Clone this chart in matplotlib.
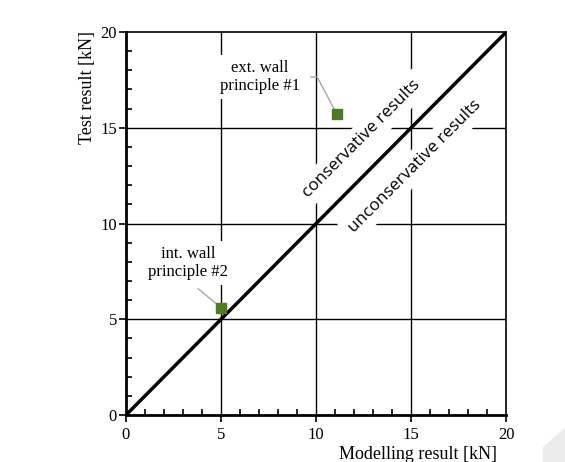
import matplotlib.pyplot as plt
from matplotlib.patches import Polygon

# data
labels = ["ext. wall\nprinciple #1", "int. wall\nprinciple #2"]
model = [11.1, 5.0]
test = [15.7, 5.6]
label_pos = [(7.05, 17.65), (3.25, 7.95)]
ticks = [0, 5, 10, 15, 20]

plt.rcParams["font.family"] = ["Liberation Serif"]
fig = plt.figure(figsize=(5.65, 4.62), dpi=100)
ax = fig.add_axes([0.223, 0.1017, 0.673, 0.829])

# grid + 1:1 line
for v in ticks[1:-1]:
    ax.axvline(v, color="black", lw=1.0, zorder=1)
    ax.axhline(v, color="black", lw=1.0, zorder=1)
ax.plot([0, 20], [0, 20], color="black", lw=2.5, zorder=3)

ax.scatter(model, test, marker="s", s=60, color="#4e7a27", zorder=5)

conn = ["angle,angleA=0,angleB=118,rad=0", "arc3,rad=0"]
rel = [(1.0, 0.5), (0.5, 0.0)]
for lab, (tx, ty), x, y, cs, rp in zip(labels, label_pos, model, test, conn, rel):
    ax.annotate(lab, xy=(x, y), xytext=(tx, ty), ha="center", va="center",
                fontsize=12, zorder=4,
                bbox=dict(boxstyle="square,pad=0.3", fc="white", ec="none"),
                arrowprops=dict(arrowstyle="-", color="#a6a6a6", lw=1.0,
                                shrinkA=4, shrinkB=2, connectionstyle=cs, relpos=rp))

ax.text(12.37, 14.41, "conservative results", rotation=45, ha="center", va="center",
        fontsize=12.3, family="Open Sans", zorder=4,
        bbox=dict(boxstyle="square,pad=0.35", fc="white", ec="none"))
ax.text(15.2, 13.0, "unconservative results", rotation=45, ha="center", va="center",
        fontsize=12.3, family="Open Sans", zorder=4,
        bbox=dict(boxstyle="square,pad=0.35", fc="white", ec="none"))

ax.set_xlim(0, 20)
ax.set_ylim(0, 20)
ax.set_xticks(ticks)
ax.set_yticks(ticks)
ax.set_xticks(range(21), minor=True)
ax.set_yticks(range(21), minor=True)
ax.tick_params(which="major", direction="out", length=5, width=1.2, labelsize=12)
ax.tick_params(axis="y", which="major", pad=1.5)
ax.tick_params(which="minor", direction="in", length=4, width=1.2)
ax.spines["left"].set_linewidth(2)
ax.spines["bottom"].set_linewidth(2)
ax.spines["top"].set_linewidth(1.2)
ax.spines["right"].set_linewidth(1.2)

fig.text(0.88, -0.003, "Modelling result [kN]", ha="right", va="bottom", fontsize=13)
fig.text(0.154, 0.932, "Test result [kN]", rotation=90, ha="center", va="top", fontsize=13)

# page corner artefact
fig.patches.append(Polygon([[0.961, 0.0], [0.961, 0.0325], [1.0, 0.074], [1.0, 0.0]],
                           closed=True, transform=fig.transFigure, fc="#ebebeb", ec="none"))

fig.savefig("out.png", dpi=100)
